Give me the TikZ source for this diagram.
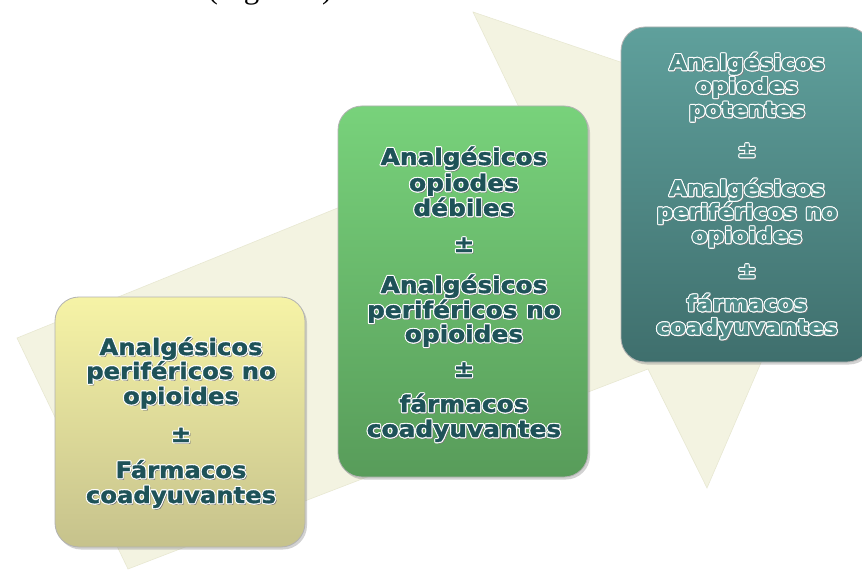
\documentclass[tikz,border=0pt]{standalone}
\usepackage{fontspec}
\setmainfont{Liberation Serif}
\newfontfamily\boxfont{DejaVu Sans}[FakeStretch=1.08, FakeBold=1.6]
\usetikzlibrary{shadows}
\definecolor{cream}{HTML}{F3F3E1}
\definecolor{creamedge}{HTML}{E6E6CF}
\definecolor{ytop}{HTML}{F6F3A6}
\definecolor{ybot}{HTML}{C6C28C}
\definecolor{gtop}{HTML}{78D27B}
\definecolor{gbot}{HTML}{589C5A}
\definecolor{ttop}{HTML}{5FA09C}
\definecolor{tbot}{HTML}{3F6F6D}
\definecolor{txtdark}{HTML}{1E5258}
\definecolor{txtteal}{HTML}{4F8C89}
\newcommand\halotext[3]{{\setbox0=\hbox{#3}%
 \rlap{\color{black!50}\kern1.5pt\lower1.5pt\copy0}%
 \rlap{\color{#1}\kern1.1pt\copy0}\rlap{\color{#1}\kern-1.1pt\copy0}%
 \rlap{\color{#1}\raise1.1pt\copy0}\rlap{\color{#1}\lower1.1pt\copy0}%
 \rlap{\color{#1}\kern0.8pt\raise0.8pt\copy0}\rlap{\color{#1}\kern-0.8pt\raise0.8pt\copy0}%
 \rlap{\color{#1}\kern0.8pt\lower0.8pt\copy0}\rlap{\color{#1}\kern-0.8pt\lower0.8pt\copy0}%
 {\color{#2}\box0}}}
\tikzset{
  stagebox/.style={rounded corners=24pt, minimum width=250pt, inner sep=0pt,
    draw=black!30, line width=0.8pt,
    drop shadow={shadow xshift=2pt, shadow yshift=-2.5pt, opacity=0.35}},
  linetext/.style={anchor=base, inner sep=0pt},
  ytxt/.style={linetext, font=\boxfont\bfseries\fontsize{22.5}{22.5}\selectfont},
  gtxt/.style={linetext, font=\boxfont\bfseries\fontsize{23}{23}\selectfont},
  ttxt/.style={linetext, font=\boxfont\bfseries\fontsize{21.5}{21.5}\selectfont}
}
\begin{document}
\begin{tikzpicture}[x=1pt,y=-1pt]
\useasboundingbox (0,0) rectangle (862,572);
\fill[white] (0,0) rectangle (862,572);
\node[anchor=base, inner sep=0pt, font=\fontsize{31}{31}\selectfont] (caption) at (270,-1.5) {(Figura 1)};
% background arrow
\filldraw[fill=cream, draw=creamedge, line width=0.5pt]
  (17,338) -- (530,130) -- (473,12) -- (856,142) -- (707,488) -- (648,369) -- (128,569) -- cycle;
% boxes
\node[stagebox, minimum height=250pt, top color=ytop, bottom color=ybot] (ybox) at (180,422) {};
\node[stagebox, minimum height=371pt, top color=gtop, bottom color=gbot] (gbox) at (463,291.5) {};
\node[stagebox, minimum height=335pt, top color=ttop, bottom color=tbot] (tbox) at (746,194.5) {};
% texts
\foreach \t/\yy [count=\i] in {Analgésicos/355, periféricos no/379, opioides/404, ±/442, Fármacos/478, coadyuvantes/503}
  \node[ytxt] (y\i) at (181,\yy) {\halotext{white}{txtdark}{\t}};
\foreach \t/\yy [count=\i] in {Analgésicos/165, opiodes/191, débiles/216, ±/252, Analgésicos/293, periféricos no/318, opioides/342, ±/377, fármacos/412, coadyuvantes/437}
  \node[gtxt] (g\i) at (464,\yy) {\halotext{white}{txtdark}{\t}};
\foreach \t/\yy [count=\i] in {Analgésicos/70, opiodes/93.5, potentes/117, ±/157, Analgésicos/196, periféricos no/219.5, opioides/243, ±/278, fármacos/311, coadyuvantes/334.5}
  \node[ttxt] (t\i) at (747,\yy) {\halotext{white}{txtteal}{\t}};
\end{tikzpicture}
\end{document}
